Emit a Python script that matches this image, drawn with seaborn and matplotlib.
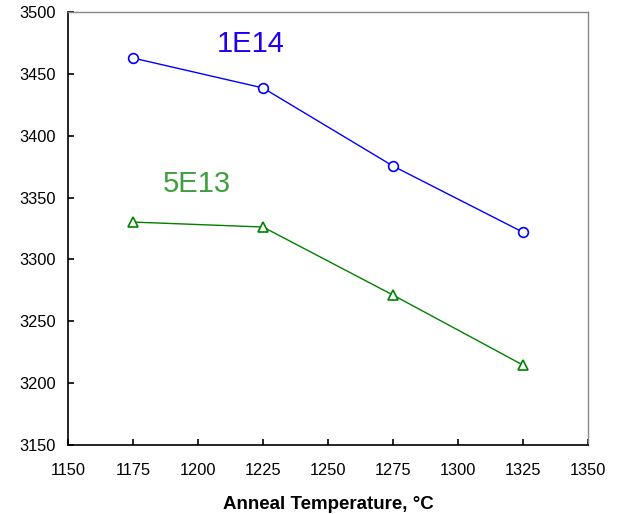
import matplotlib
matplotlib.use("Agg")
import matplotlib.pyplot as plt
import seaborn as sns
import pandas as pd

temps = [1175, 1225, 1275, 1325]
dose_1e14 = [3462.8, 3438.6, 3375.5, 3322.0]
dose_5e13 = [3330.2, 3326.2, 3271.2, 3214.6]
x_ticks = [1150, 1175, 1200, 1225, 1250, 1275, 1300, 1325, 1350]
y_ticks = [3150, 3200, 3250, 3300, 3350, 3400, 3450, 3500]

sns.set_theme(style="ticks")
plt.rcParams['font.family'] = ['Liberation Sans', 'DejaVu Sans']
plt.rcParams['text.color'] = 'black'
plt.rcParams['xtick.direction'] = 'in'
plt.rcParams['ytick.direction'] = 'in'
plt.rcParams['xtick.major.size'] = 4
plt.rcParams['ytick.major.size'] = 4
plt.rcParams['xtick.color'] = 'black'
plt.rcParams['ytick.color'] = 'black'

df = pd.concat([
    pd.DataFrame({"T": temps, "v": dose_1e14, "s": "1E14"}),
    pd.DataFrame({"T": temps, "v": dose_5e13, "s": "5E13"}),
])

fig = plt.figure(figsize=(6.17, 5.14), dpi=100)
ax = fig.add_axes([68/617, 69/514, 520/617, 433/514])

sns.lineplot(data=df[df.s == "1E14"], x="T", y="v", ax=ax, color="#0000ff",
             marker="o", markersize=7, markerfacecolor="white",
             markeredgecolor="#0000ff", markeredgewidth=1.2, linewidth=1.0)
sns.lineplot(data=df[df.s == "5E13"], x="T", y="v", ax=ax, color="#008000",
             marker="^", markersize=7.5, markerfacecolor="white",
             markeredgecolor="#008000", markeredgewidth=1.2, linewidth=1.0)

ax.set_xlim(1150, 1350)
ax.set_ylim(3150, 3500)
ax.set_xticks(x_ticks)
ax.set_yticks(y_ticks)
ax.tick_params(axis='both', which='major', direction='in', length=4, width=1.2,
               labelsize=11.8, color='black', labelcolor='black',
               bottom=True, left=True, top=False, right=False)
ax.tick_params(axis='y', pad=9)
ax.tick_params(axis='x', pad=13)
for side in ['left', 'bottom']:
    ax.spines[side].set_visible(True)
    ax.spines[side].set_color('black')
    ax.spines[side].set_linewidth(1.2)
for side in ['top', 'right']:
    ax.spines[side].set_visible(True)
    ax.spines[side].set_color('#888888')
    ax.spines[side].set_linewidth(1.0)

ax.set_xlabel("Anneal Temperature, °C", fontsize=13.5, fontweight='bold',
              labelpad=13, color='black')
ax.set_ylabel("")

ax.text(1220.4, 3474, "1E14", color="#2200ee", fontsize=21, ha='center', va='center')
ax.text(1199.6, 3361, "5E13", color="#3f9f3f", fontsize=21, ha='center', va='center')

fig.savefig("out.png", dpi=100)
